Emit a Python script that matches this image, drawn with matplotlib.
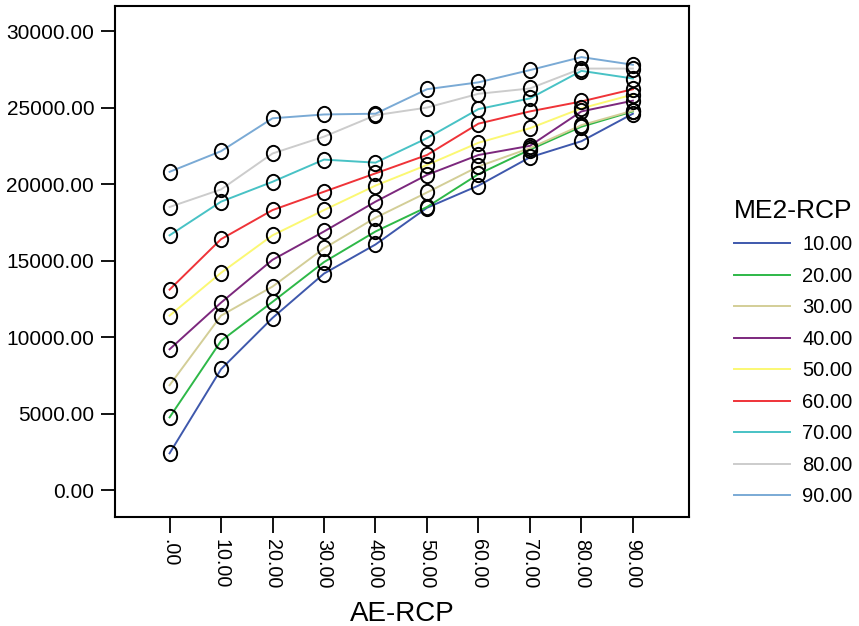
import numpy as np
import matplotlib
matplotlib.use("Agg")
import matplotlib.pyplot as plt
from matplotlib.path import Path

plt.rcParams['font.family'] = ['Liberation Sans', 'DejaVu Sans']

# AE-RCP categories on the x axis
ae_labels = [".00", "10.00", "20.00", "30.00", "40.00", "50.00", "60.00", "70.00", "80.00", "90.00"]

# ME2-RCP groups (one line each)
me2_labels = ["10.00", "20.00", "30.00", "40.00", "50.00", "60.00", "70.00", "80.00", "90.00"]

me2_10 = [2400, 7900, 11250, 14150, 16050, 18450, 19900, 21750, 22800, 24600]
me2_20 = [4750, 9750, 12300, 14900, 16900, 18500, 20650, 22250, 23750, 24750]
me2_30 = [6850, 11400, 13300, 15800, 17800, 19450, 21150, 22350, 23850, 24800]
me2_40 = [9200, 12250, 15050, 16900, 18850, 20600, 21900, 22500, 24750, 25450]
me2_50 = [11400, 14200, 16650, 18300, 19900, 21250, 22700, 23650, 24950, 25850]
me2_60 = [13100, 16400, 18300, 19500, 20700, 21900, 23950, 24750, 25400, 26200]
me2_70 = [16650, 18850, 20150, 21600, 21400, 23000, 24900, 25600, 27400, 26900]
me2_80 = [18500, 19650, 22000, 23100, 24500, 25000, 25900, 26250, 27550, 27550]
me2_90 = [20800, 22150, 24300, 24550, 24600, 26200, 26650, 27450, 28300, 27800]

series = [me2_10, me2_20, me2_30, me2_40, me2_50, me2_60, me2_70, me2_80, me2_90]
colors = ["#3e58ac", "#2eb848", "#d3ce97", "#7c287d", "#fbf873",
          "#ef3338", "#48c2c5", "#cccccc", "#7aaad5"]

# slightly tall ellipse marker
circ = Path.unit_circle()
oval = Path(circ.vertices * np.array([0.87, 1.0]), circ.codes)

fig = plt.figure(figsize=(8.59, 6.26), dpi=100)
ax = fig.add_axes([115 / 859, 1 - 516.5 / 626, 574 / 859, 510.5 / 626])

x = np.arange(len(ae_labels))
for vals, col, lab in zip(series, colors, me2_labels):
    ax.plot(x, vals, color=col, lw=1.4, label=lab, zorder=2)
for vals in series:
    ax.plot(x, vals, ls="none", marker=oval, ms=11, mfc="none",
            mec="black", mew=1.4, zorder=3)

ax.set_xlim(-1.06, 10.09)
ax.set_ylim(-1730, 31640)
ax.set_xticks(x)
ax.set_xticklabels(ae_labels, rotation=270, fontsize=14.2)
ax.set_yticks(np.arange(0, 30001, 5000))
ax.set_yticklabels([f"{v:.2f}" for v in np.arange(0, 30001, 5000)], fontsize=15)
ax.tick_params(axis="x", length=11.5, width=1.3, pad=4.5)
ax.tick_params(axis="y", length=10, width=1.3, pad=5)
for sp in ax.spines.values():
    sp.set_linewidth(1.5)

ax.set_xlabel("AE-RCP", fontsize=20)
ax.xaxis.set_label_coords(0.5, (516.5 - 621) / 510.5)
ax.xaxis.label.set_va("baseline")

fig.legend(loc="upper left", bbox_to_anchor=(734 / 859, 1 - 199 / 626),
           title="ME2-RCP", title_fontsize=19, fontsize=14.5, frameon=False,
           alignment="left", handlelength=2.8, handletextpad=0.6,
           labelspacing=0.62, borderpad=0, borderaxespad=0)

fig.savefig("out.png", dpi=100)
